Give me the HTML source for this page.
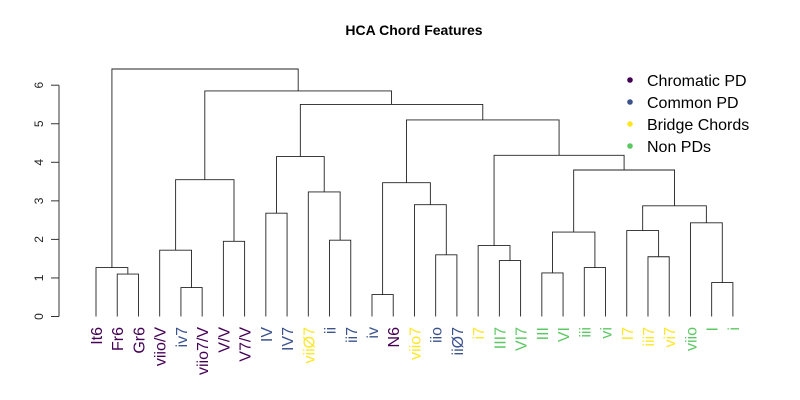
<!DOCTYPE html>
<html><head><meta charset="utf-8"><style>
body{margin:0;background:#fff;}
svg{display:block;font-family:"Liberation Sans",sans-serif;}
</style></head><body>
<svg id="chart" width="800" height="400">
<text x="414" y="35" text-anchor="middle" font-size="14" font-weight="bold">HCA Chord Features</text>
<g id="axis"></g>
<g id="tree"></g>
<g id="labels"></g>
<g id="legend"></g>
</svg>
<script>
const leaves = ["It6","Fr6","Gr6","viio/V","iv7","viio7/V","V/V","V7/V","IV","IV7","viiØ7","ii","ii7","iv","N6","viio7","iio","iiØ7","i7","III7","VI7","III","VI","iii","vi","I7","iii7","vi7","viio","I","i"];
const leafGroups = [0,0,0,0,1,0,0,0,1,1,2,1,1,1,0,2,1,1,2,3,3,3,3,3,3,2,2,2,3,3,3];
const groupNames = ["Chromatic PD","Common PD","Bridge Chords","Non PDs"];
const groupColors = ["#440154","#3B528B","#FDE725","#5DC863"];
// merges: [left,right,height]; negative = leaf index (1-based), positive = merge index (1-based)
const merges = [
 [-2,-3,1.10],   //1 Fr6 Gr6
 [-1,1,1.27],    //2 It6
 [-5,-6,0.75],   //3 iv7 viio7/V
 [-4,3,1.72],    //4
 [-7,-8,1.95],   //5 V/V V7/V
 [4,5,3.55],     //6
 [-9,-10,2.68],  //7 IV IV7
 [-12,-13,1.98], //8 ii ii7
 [-11,8,3.23],   //9
 [7,9,4.15],     //10
 [-14,-15,0.57], //11 iv N6
 [-17,-18,1.60], //12 iio iiØ7
 [-16,12,2.90],  //13
 [11,13,3.47],   //14
 [-20,-21,1.45], //15 III7 VI7
 [-19,15,1.84],  //16
 [-22,-23,1.13], //17 III VI
 [-24,-25,1.27], //18 iii vi
 [17,18,2.19],   //19
 [-27,-28,1.55], //20 iii7 vi7
 [-26,20,2.23],  //21
 [-30,-31,0.88], //22 I i
 [-29,22,2.43],  //23
 [21,23,2.87],   //24
 [19,24,3.80],   //25
 [16,25,4.18],   //26
 [14,26,5.10],   //27
 [10,27,5.50],   //28
 [6,28,5.85],    //29
 [2,29,6.42]     //30
];
const yTicks = [0,1,2,3,4,5,6];

const NS="http://www.w3.org/2000/svg";
const xScale = i => 96 + i*21.23;
const yScale = h => 316.5 - h*38.55;
function mk(tag,attrs,parent){const e=document.createElementNS(NS,tag);for(const k in attrs)e.setAttribute(k,attrs[k]);parent.appendChild(e);return e;}

const axis=document.getElementById('axis');
let ax=mk('line',{x1:59,x2:59,y1:yScale(0),y2:yScale(6),stroke:'#333','stroke-width':1},axis);


yTicks.forEach(t=>{
  const y=yScale(t);
  const tk=mk('line',{x1:51,x2:59,y1:y,y2:y,stroke:'#333','stroke-width':1},axis);
  
  
  const lb=mk('text',{x:0,y:0,transform:`translate(43,${y}) rotate(-90)`,'text-anchor':'middle','font-size':12,fill:'#222'},axis);
  lb.textContent=t;
  
  
});

const tree=document.getElementById('tree');
const pos={};
function nodeX(id){return id<0?xScale(-id-1):pos[id];}
function nodeH(id){return id<0?0:merges[id-1][2];}
merges.forEach((m,i)=>{
  const id=i+1,[a,b,h]=m;
  const xa=nodeX(a),xb=nodeX(b);
  pos[id]=(xa+xb)/2;
  const p=mk('path',{d:`M${xa},${yScale(nodeH(a))}V${yScale(h)}H${xb}V${yScale(nodeH(b))}`,fill:'none',stroke:'#222','stroke-width':0.9},tree);
  
  
});

const labels=document.getElementById('labels');
leaves.forEach((l,i)=>{
  const x=xScale(i);
  const t=mk('text',{x:0,y:0,transform:`translate(${x+6},327) rotate(-90)`,'text-anchor':'end','font-size':16,fill:groupColors[leafGroups[i]]},labels);
  t.textContent=l;
  
  
});

const legend=document.getElementById('legend');
groupNames.forEach((g,i)=>{
  const y=80+i*22;
  const c=mk('circle',{cx:630,cy:y,r:2.8,fill:groupColors[i]},legend);
  
  
  const t=mk('text',{x:647,y:y+6,'font-size':16,fill:'#000'},legend);
  t.textContent=g;
  
  
});
</script>
</body></html>
